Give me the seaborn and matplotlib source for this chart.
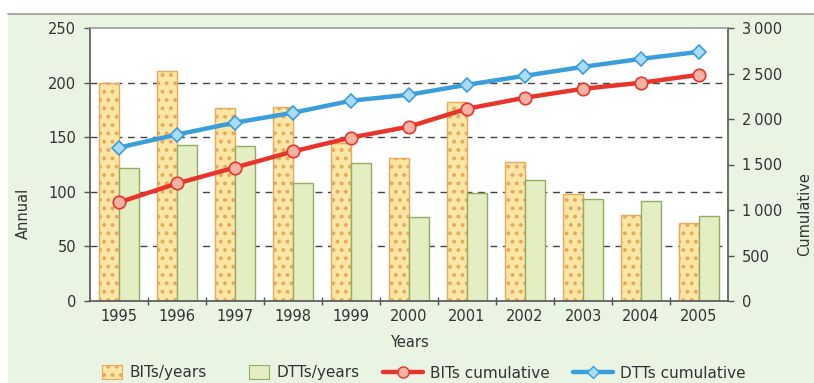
import numpy as np
import pandas as pd
import matplotlib
matplotlib.use("Agg")
import matplotlib.pyplot as plt
from matplotlib.patches import Rectangle, Patch
from matplotlib.lines import Line2D
from matplotlib.legend_handler import HandlerPatch
from matplotlib.ticker import FixedLocator, FuncFormatter
import seaborn as sns

years = ["1995", "1996", "1997", "1998", "1999", "2000",
         "2001", "2002", "2003", "2004", "2005"]
bits_annual = [200, 211, 177, 178, 145, 131, 182, 127, 98, 79, 71]
dtts_annual = [122, 143, 142, 108, 126, 77, 99, 111, 93, 92, 78]
bits_cumulative = [1084, 1292, 1467, 1643, 1796, 1916, 2113, 2234, 2332, 2398, 2486]
dtts_cumulative = [1686, 1829, 1960, 2069, 2201, 2267, 2376, 2475, 2573, 2661, 2738]
left_ticks = [0, 50, 100, 150, 200, 250]
right_ticks = [0, 500, 1000, 1500, 2000, 2500, 3000]

sns.set_theme(style="white")
plt.rcParams["font.family"] = ["DejaVu Sans"]
plt.rcParams["hatch.linewidth"] = 1.6

BG = "#eaf4e3"
BIT_FACE, BIT_EDGE = "#fbe6a6", "#e9a85a"
DTT_FACE, DTT_EDGE = "#e4eec2", "#8fae62"
RED, RED_FACE = "#e8342a", "#f6b3a4"
BLUE, BLUE_FACE = "#3a9edb", "#a9dcf5"
TXT = "#333333"
FS = 10.5

fig = plt.figure(figsize=(8.14, 3.83), dpi=100)
fig.patch.set_facecolor("white")
# light green panel behind the chart, with a grey rule on top
fig.add_artist(Rectangle((8 / 814, 0), 1 - 8 / 814, 1 - 14 / 383,
                         transform=fig.transFigure, facecolor=BG,
                         edgecolor="none", zorder=-10))
fig.add_artist(Line2D([8 / 814, 1], [1 - 14 / 383, 1 - 14 / 383],
                      transform=fig.transFigure, color="#9a9a9a", lw=1.2))

ax = fig.add_axes([90 / 814, 1 - 301 / 383, 638 / 814, 273 / 383])
ax.set_facecolor("white")

bars = pd.DataFrame({
    "year": years * 2,
    "value": bits_annual + dtts_annual,
    "kind": ["BITs/years"] * len(years) + ["DTTs/years"] * len(years),
})
sns.barplot(data=bars, x="year", y="value", hue="kind", order=years,
            palette=[BIT_FACE, DTT_FACE], width=0.68, gap=0.0,
            saturation=1, ax=ax, legend=False, zorder=2)
for bar in ax.containers[0]:
    bar.set_edgecolor(BIT_EDGE)
    bar.set_linewidth(1.0)
    bar.set_hatch("..")
for bar in ax.containers[1]:
    bar.set_edgecolor(DTT_EDGE)
    bar.set_linewidth(1.0)

ax.set_ylim(0, 250)
ax.set_xlim(-0.5, len(years) - 0.5)
ax.yaxis.set_major_locator(FixedLocator(left_ticks))
for v in left_ticks[1:-1]:
    ax.axhline(v, color="#444444", lw=1.0, ls=(0, (5, 4)), zorder=1)

ax.set_xticks(range(len(years)))
ax.set_xticklabels(years)
ax.set_xticks(np.arange(0.5, len(years) - 0.5, 1.0), minor=True)
ax.tick_params(axis="x", which="major", length=0, pad=6, labelsize=FS,
               labelcolor=TXT)
ax.tick_params(axis="x", which="minor", length=6, width=1.0,
               direction="inout", color="#555555", bottom=True)
ax.tick_params(axis="y", which="major", left=True, length=4, width=1.0,
               color="#555555", pad=6, labelsize=FS, labelcolor=TXT)
ax.set_xlabel("Years", fontsize=FS, color=TXT, labelpad=8)
ax.set_ylabel("Annual", fontsize=FS, color=TXT)
ax.yaxis.set_label_coords(-59 / 638, 0.32)

for side in ("left", "bottom", "right"):
    ax.spines[side].set_color("#555555")
    ax.spines[side].set_linewidth(1.2)
ax.spines["top"].set_color("#9a9a9a")
ax.spines["top"].set_linewidth(1.2)

ax2 = ax.twinx()
pos = np.arange(len(years))
cum = pd.DataFrame({"pos": pos, "bits": bits_cumulative, "dtts": dtts_cumulative})
sns.lineplot(data=cum, x="pos", y="bits", ax=ax2, color=RED, lw=3.2,
             marker="o", markersize=9, markerfacecolor=RED_FACE,
             markeredgecolor=RED, markeredgewidth=1.2, zorder=4)
sns.lineplot(data=cum, x="pos", y="dtts", ax=ax2, color=BLUE, lw=3.2,
             marker="D", markersize=7, markerfacecolor=BLUE_FACE,
             markeredgecolor=BLUE, markeredgewidth=1.2, zorder=4)
ax2.set_ylim(0, 3000)
ax2.yaxis.set_major_locator(FixedLocator(right_ticks))
ax2.yaxis.set_major_formatter(
    FuncFormatter(lambda v, p: f"{int(v):,}".replace(",", "\u2009")))
ax2.tick_params(axis="y", right=True, length=4, width=1.0, color="#555555",
                pad=6, labelsize=FS, labelcolor=TXT)
ax2.set_ylabel("Cumulative", fontsize=FS, color=TXT, rotation=90)
ax2.yaxis.set_label_coords(1 + 69 / 638, 0.32)
ax2.set_xlabel("")
for s in ax2.spines.values():
    s.set_visible(False)
ax2.grid(False)
ax.grid(False)


def small_box(legend, orig_handle, xdescent, ydescent, width, height, fontsize):
    # compact swatch, right-aligned in the handle slot
    w = 0.5 * width
    return Rectangle((width - w - xdescent, -ydescent - 1), w, height + 2)


handles = [
    Patch(facecolor=BIT_FACE, edgecolor=BIT_EDGE, hatch="..", lw=0.8),
    Patch(facecolor=DTT_FACE, edgecolor=DTT_EDGE, lw=0.8),
    Line2D([], [], color=RED, lw=3.2, marker="o", markersize=8,
           markerfacecolor=RED_FACE, markeredgecolor=RED),
    Line2D([], [], color=BLUE, lw=3.2, marker="D", markersize=6,
           markerfacecolor=BLUE_FACE, markeredgecolor=BLUE),
]
labels = ["BITs/years", "DTTs/years", "BITs cumulative", "DTTs cumulative"]
leg = fig.legend(handles, labels, loc="center", ncol=4,
                 bbox_to_anchor=(414 / 814, 1 - 373 / 383), frameon=False,
                 fontsize=11, handlelength=2.6, handletextpad=0.5,
                 columnspacing=1.5, labelcolor=TXT,
                 handler_map={Patch: HandlerPatch(patch_func=small_box)})

fig.savefig("out.png", dpi=100)
